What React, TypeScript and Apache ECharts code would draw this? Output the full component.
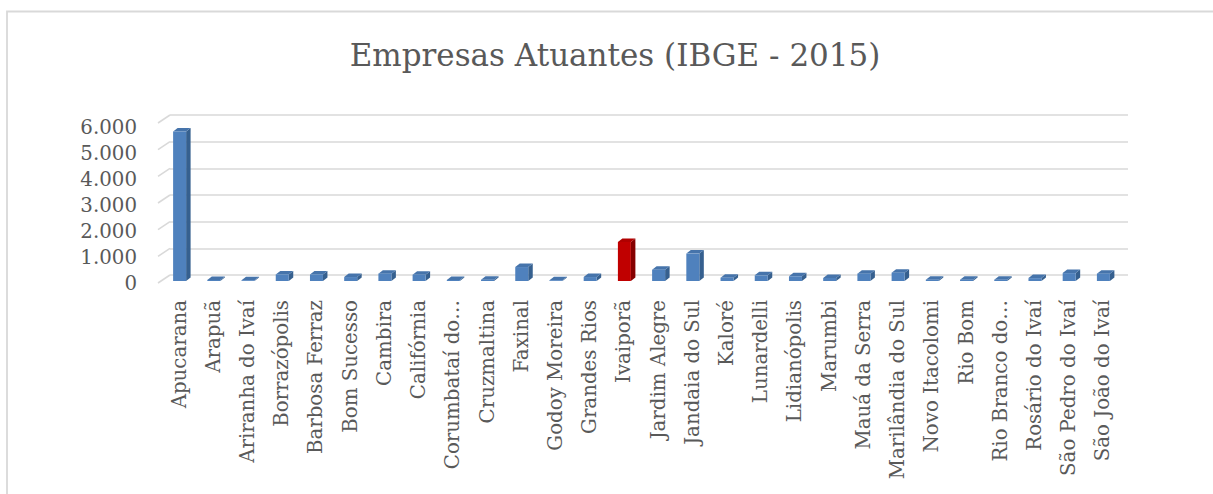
import React, { useEffect, useRef } from "react";
import * as echarts from "echarts";

const title = "Empresas Atuantes (IBGE - 2015)";

const categories = [
  "Apucarana",
  "Arapuã",
  "Ariranha do Ivaí",
  "Borrazópolis",
  "Barbosa Ferraz",
  "Bom Sucesso",
  "Cambira",
  "Califórnia",
  "Corumbataí do…",
  "Cruzmaltina",
  "Faxinal",
  "Godoy Moreira",
  "Grandes Rios",
  "Ivaiporã",
  "Jardim Alegre",
  "Jandaia do Sul",
  "Kaloré",
  "Lunardelli",
  "Lidianópolis",
  "Marumbi",
  "Mauá da Serra",
  "Marilândia do Sul",
  "Novo Itacolomi",
  "Rio Bom",
  "Rio Branco do…",
  "Rosário do Ivaí",
  "São Pedro do Ivaí",
  "São João do Ivaí",
];

const empresas = [
  5680, 40, 30, 250, 250, 150, 280, 240, 40, 50, 530, 30, 150, 1480, 430, 1040,
  125, 215, 180, 115, 280, 316, 50, 50, 50, 110, 300, 280,
];

const highlighted = ["Ivaiporã"];

const yTicks = [0, 1000, 2000, 3000, 4000, 5000, 6000];
const yMax = 6000;
const yStep = 1000;

const FONT = "DejaVu Serif";
const TEXT = "#595959";
const GRID = "#d9d9d9";

function fmt(v: number): string {
  const s = Math.round(v).toString();
  return s.replace(/\B(?=(\d{3})+(?!\d))/g, ".");
}

export default function App() {
  const ref = useRef<HTMLDivElement>(null);

  useEffect(() => {
    if (!ref.current) return;
    const chart = echarts.init(ref.current, null, { renderer: "svg" });

    const dx = 4.5;
    const dy = -3.5;

    const option: any = {
      animation: false,
      backgroundColor: "#ffffff",
      title: {
        text: title,
        left: 610,
        top: 34,
        textAlign: "center",
        textStyle: {
          fontFamily: FONT,
          fontSize: 31,
          fontWeight: "normal",
          color: TEXT,
        },
      },
      graphic: [
        {
          type: "rect",
          shape: { x: 7, y: 11.5, width: 1300, height: 600 },
          style: { fill: "none", stroke: GRID, lineWidth: 1.8 },
          silent: true,
        },
      ],
      grid: [
        // 0: bars (mid plane)
        { left: 162, right: 93, top: 123, bottom: 213 },
        // 1: back wall gridlines
        { left: 170, right: 85, top: 115, bottom: 219 },
        // 2: front plane labels
        { left: 158, right: 85, top: 127, bottom: 211 },
      ],
      xAxis: [
        {
          gridIndex: 0,
          type: "category",
          data: categories,
          axisLine: { show: false },
          axisTick: { show: false },
          axisLabel: {
            rotate: 90,
            interval: 0,
            margin: 19,
            fontFamily: FONT,
            fontSize: 19.8,
            color: TEXT,
          },
        },
        { gridIndex: 1, type: "value", min: 0, max: 1, show: false },
        { gridIndex: 2, type: "value", min: 0, max: 1, show: false },
      ],
      yAxis: [
        {
          gridIndex: 0,
          type: "value",
          min: 0,
          max: yMax,
          interval: yStep,
          axisLine: { show: false },
          axisTick: { show: false },
          axisLabel: { show: false },
          splitLine: { show: false },
        },
        {
          gridIndex: 1,
          type: "value",
          min: 0,
          max: yMax,
          interval: yStep,
          axisLine: { show: false },
          axisTick: { show: false },
          axisLabel: { show: false },
          splitLine: { show: true, lineStyle: { color: GRID, width: 1.6 } },
        },
        {
          gridIndex: 2,
          type: "value",
          min: 0,
          max: yMax,
          interval: yStep,
          axisLine: { show: false },
          axisTick: { show: false },
          splitLine: { show: false },
          axisLabel: {
            margin: 21,
            fontFamily: FONT,
            fontSize: 19.8,
            color: TEXT,
            formatter: (v: number) => fmt(v),
          },
        },
      ],
      series: [
        {
          type: "custom",
          xAxisIndex: 1,
          yAxisIndex: 1,
          silent: true,
          data: yTicks.map((v) => [0, v]),
          renderItem: (params: any, api: any) => {
            const p = api.coord([0, api.value(1)]);
            return {
              type: "line",
              shape: { x1: p[0], y1: p[1], x2: p[0] - 12, y2: p[1] + 8 },
              style: { stroke: GRID, lineWidth: 1.6 },
            };
          },
        },
        {
          type: "custom",
          xAxisIndex: 0,
          yAxisIndex: 0,
          z: 5,
          data: empresas.map((v, i) => [i, v]),
          renderItem: (params: any, api: any) => {
            const i = api.value(0);
            const v = api.value(1);
            const top = api.coord([i, v]);
            const base = api.coord([i, 0]);
            const w = 13;
            const x0 = top[0] - w / 2 + 0.5;
            const x1 = x0 + w;
            const ty = top[1];
            const by = base[1];
            const red = highlighted.includes(categories[i]);
            const cFront = red ? "#c00000" : "#4f81bd";
            const cTop = red ? "#b00000" : "#4674ab";
            const cSide = red ? "#850000" : "#36608f";
            return {
              type: "group",
              children: [
                {
                  type: "polygon",
                  shape: {
                    points: [
                      [x1, ty],
                      [x1 + dx, ty + dy],
                      [x1 + dx, by + dy],
                      [x1, by],
                    ],
                  },
                  style: { fill: cSide },
                },
                {
                  type: "polygon",
                  shape: {
                    points: [
                      [x0, ty],
                      [x1, ty],
                      [x1 + dx, ty + dy],
                      [x0 + dx, ty + dy],
                    ],
                  },
                  style: { fill: cTop },
                },
                {
                  type: "rect",
                  shape: { x: x0, y: ty, width: w, height: Math.max(0, by - ty) },
                  style: { fill: cFront },
                },
              ],
            };
          },
        },
      ],
    };

    chart.setOption(option);
    return () => chart.dispose();
  }, []);

  return (
    <div
      ref={ref}
      style={{ position: "absolute", left: 0, top: 0, width: 1213, height: 494 }}
    />
  );
}
